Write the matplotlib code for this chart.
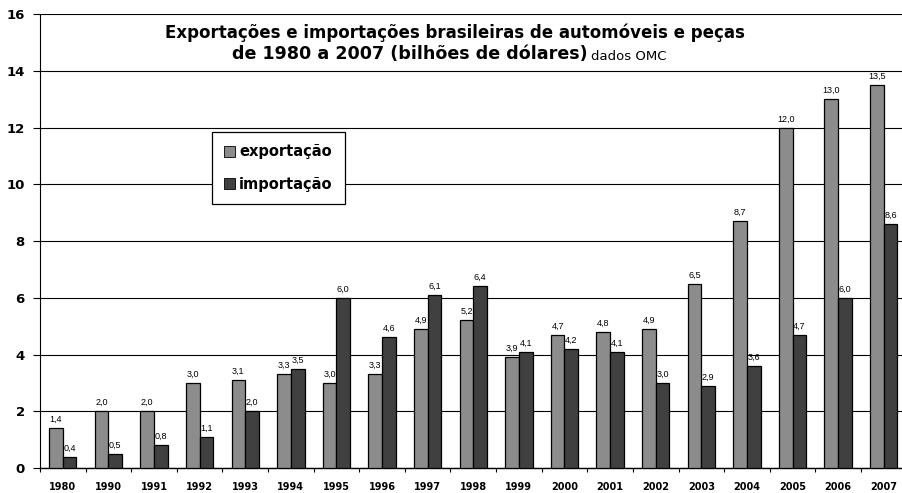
import matplotlib
matplotlib.use("Agg")
import matplotlib.pyplot as plt
import numpy as np

years = ["1980", "1990", "1991", "1992", "1993", "1994", "1995", "1996", "1997", "1998",
         "1999", "2000", "2001", "2002", "2003", "2004", "2005", "2006", "2007"]
exportacao = [1.4, 2.0, 2.0, 3.0, 3.1, 3.3, 3.0, 3.3, 4.9, 5.2,
              3.9, 4.7, 4.8, 4.9, 6.5, 8.7, 12.0, 13.0, 13.5]
importacao = [0.4, 0.5, 0.8, 1.1, 2.0, 3.5, 6.0, 4.6, 6.1, 6.4,
              4.1, 4.2, 4.1, 3.0, 2.9, 3.6, 4.7, 6.0, 8.6]

plt.rcParams['font.family'] = ['DejaVu Sans']

fig = plt.figure(figsize=(9.02, 4.93), dpi=100)
ax = fig.add_axes([40/902, 1 - 468/493, 1 - 40/902, (468 - 14)/493])

x = np.arange(len(years))
w = 0.3
ax.bar(x - w/2, exportacao, w, color='#8c8c8c', edgecolor='black', linewidth=0.9,
       label='exportação', zorder=3)
ax.bar(x + w/2, importacao, w, color='#404040', edgecolor='black', linewidth=0.9,
       label='importação', zorder=3)

def fmt(v):
    return f"{v:.1f}".replace('.', ',')

lab_font = ['Liberation Sans', 'DejaVu Sans']
for xi, v in zip(x - w/2, exportacao):
    ax.annotate(fmt(v), (xi, v), xytext=(0, 3), textcoords='offset points',
                ha='center', va='bottom', fontsize=6.5, family=lab_font, zorder=4)
for xi, v in zip(x + w/2, importacao):
    ax.annotate(fmt(v), (xi, v), xytext=(0, 3), textcoords='offset points',
                ha='center', va='bottom', fontsize=6.5, family=lab_font, zorder=4)

ax.set_ylim(0, 16)
ax.set_xlim(-0.5, 18.4)
ax.set_yticks(np.arange(0, 17, 2))
ax.set_yticklabels([str(v) for v in range(0, 17, 2)], fontsize=9.5, fontweight='bold')
ax.yaxis.grid(True, color='black', linewidth=0.8, zorder=0)
ax.set_axisbelow(True)

ax.set_xticks(x)
ax.set_xticklabels(years, fontsize=7, fontweight='bold')
ax.tick_params(axis='x', which='major', length=0, pad=10)
ax.set_xticks(np.arange(-0.5, 18.5, 1), minor=True)
ax.tick_params(axis='x', which='minor', length=3, width=0.8, direction='out')
ax.tick_params(axis='y', length=5, width=0.8, direction='out', pad=6)

for s in ['top', 'right']:
    ax.spines[s].set_visible(False)
ax.spines['left'].set_linewidth(0.8)
ax.spines['bottom'].set_linewidth(1.0)

fig.text(455/902, 1 - 33/493, "Exportações e importações brasileiras de automóveis e peças",
         ha='center', va='center', fontsize=12, fontweight='bold')
t2 = fig.text(232/902, 1 - 54/493, "de 1980 a 2007 (bilhões de dólares)",
              ha='left', va='center', fontsize=12.6, fontweight='bold')
fig.canvas.draw()
bb = t2.get_window_extent()
fig.text((bb.x1 + 3)/902, 1 - 56/493, "dados OMC", ha='left', va='center', fontsize=9.5)

leg = ax.legend(loc='upper left', bbox_to_anchor=((212 - 40)/862, 1 - (132 - 14)/454),
                frameon=True, fancybox=False, edgecolor='black', framealpha=1,
                prop={'weight': 'bold', 'size': 10.5}, handlelength=0.75, handleheight=0.75,
                handletextpad=0.25, labelspacing=1.2, borderpad=0.85, borderaxespad=0)
leg.get_frame().set_linewidth(0.9)
for h in leg.legend_handles:
    h.set_linewidth(0.6)

fig.savefig("out.png", dpi=100)
